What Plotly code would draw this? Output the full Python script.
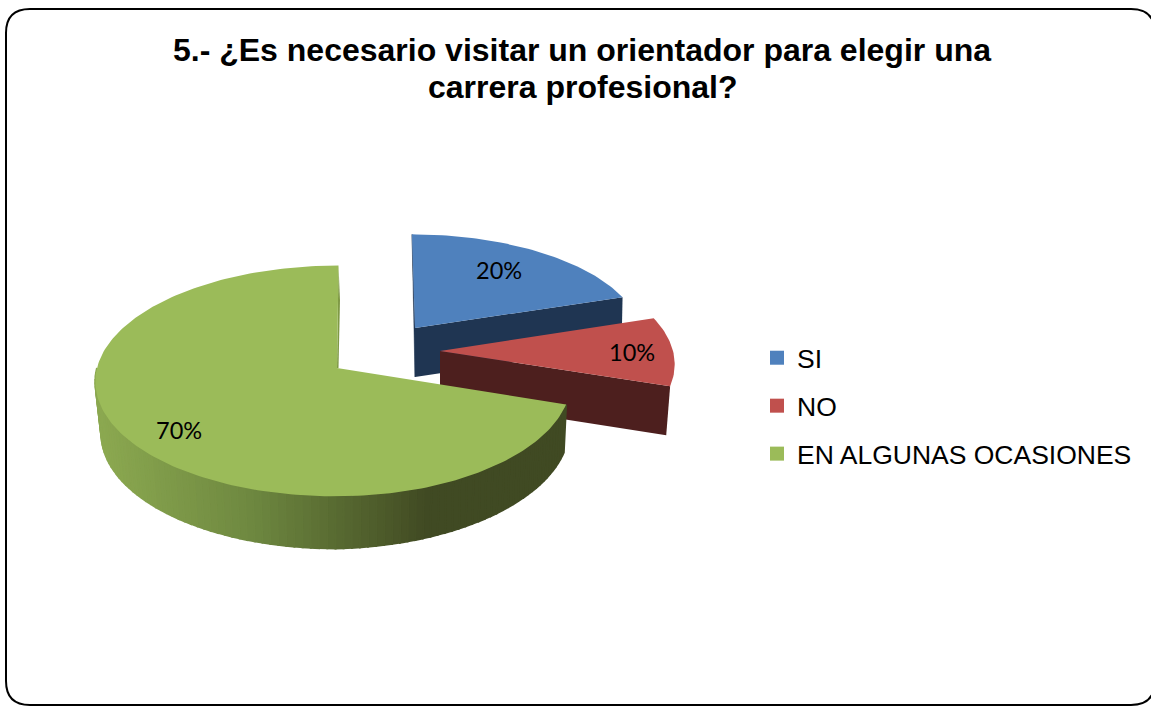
import math
import plotly.graph_objects as go

# ---- data ----
categories = ["SI", "NO", "EN ALGUNAS OCASIONES"]
values = [20, 10, 70]
title_lines = ["5.- ¿Es necesario visitar un orientador para elegir una", "carrera profesional?"]

# ---- style ----
top_colors = ["#4F81BD", "#C0504D", "#9BBB59"]
wall_colors = ["#1F3552", "#4D1F1E", "#404A23"]
# apex x/y, rx (right), rx (left), ry, perspective k, tilt, wall depth, right-side shrink, right-side depth loss
geom = [
    dict(ax=415, ay=328, rx=226, rxl=226, ry=103, k=0.10, tilt=3, d=49, sr=0.995, dr=0),
    dict(ax=440, ay=351, rx=233, rxl=233, ry=110, k=0.12, tilt=0, d=49, sr=0.983, dr=0),
    dict(ax=337, ay=368, rx=233, rxl=240, ry=114, k=0.112, tilt=-1.5, d=52, sr=0.99, dr=0.08),
]
label_pos = [(499, 270), (632, 352), (179, 430)]
SHRINK_LEFT = 0.975


def rim(g, theta):
    u, v = math.sin(theta), math.cos(theta)
    s = 1 / (1 + g["k"] * v)
    r = g["rx"] if u >= 0 else g["rxl"]
    return g["ax"] + r * u * s - g["tilt"] * v, g["ay"] - g["ry"] * v * s


def low(g, p):
    dx = p[0] - g["ax"]
    shrink = g["sr"] if dx >= 0 else SHRINK_LEFT
    u = max(0.0, dx / g["rx"])
    return g["ax"] + dx * shrink, p[1] + g["d"] * (1 - g["dr"] * u)


def poly(pts, color, width=0.0):
    return go.Scatter(
        x=[p[0] for p in pts] + [pts[0][0]],
        y=[p[1] for p in pts] + [pts[0][1]],
        mode="lines", fill="toself", fillcolor=color,
        line=dict(color=color, width=width),
        hoverinfo="skip", showlegend=False,
    )


def green_shade(x):
    stops = [(100, (139, 168, 80)), (250, (110, 136, 64)), (400, (72, 84, 39)), (425, (64, 74, 35)), (700, (64, 74, 35))]
    for (x0, c0), (x1, c1) in zip(stops, stops[1:]):
        if x <= x1:
            t = max(0, (x - x0) / (x1 - x0))
            c = [round(a + (b - a) * t) for a, b in zip(c0, c1)]
            return "rgb({},{},{})".format(*c)
    return "rgb(64,74,35)"


fig = go.Figure()
total = sum(values)
angle = 0.0
for i, val in enumerate(values):
    g = geom[i]
    a0 = angle
    a1 = angle + 2 * math.pi * val / total
    angle = a1
    n = max(12, int(val * 3))
    arc = [rim(g, a0 + (a1 - a0) * j / n) for j in range(n + 1)]
    apex = (g["ax"], g["ay"])
    lapex = (g["ax"], g["ay"] + g["d"])

    if i == 0:
        # sliver of the inner face at the start and the cut face at the end
        fig.add_trace(poly([arc[0], apex, lapex], wall_colors[i], 0.5))
        fig.add_trace(poly([apex, arc[-1], low(g, arc[-1]), lapex], wall_colors[i]))
    elif i == 1:
        fig.add_trace(poly([apex, arc[-1], low(g, arc[-1]), lapex], wall_colors[i]))
    else:
        # cut face at the top of the large slice
        p = arc[-1]
        fig.add_trace(poly([p, (p[0] + 1.5, p[1] + 35), (apex[0] + 1.5, apex[1]), apex], "#7F9A45"))
        # shaded outer wall: front half of the rim only, in overlapping strips
        strips = 140
        front = [a0 + (a1 - a0) * j / strips for j in range(strips + 1)]
        front = [t for t in front if t <= 1.5 * math.pi]
        for t0, t1 in zip(front, front[1:]):
            p0, p1 = rim(g, t0), rim(g, t1)
            fig.add_trace(poly([p0, p1, low(g, p1), low(g, p0)], green_shade((p0[0] + p1[0]) / 2), 2))

    fig.add_trace(poly([apex] + arc, top_colors[i]))

# legend entries
for name, color in zip(categories, top_colors):
    fig.add_trace(go.Scatter(
        x=[None], y=[None], mode="markers", name=name, legendgroup=name,
        marker=dict(symbol="square", size=14, color=color),
    ))

for val, (lx, ly) in zip(values, label_pos):
    fig.add_annotation(x=lx, y=ly, text=f"{val}%", showarrow=False,
                       font=dict(family="Lato, Carlito, sans-serif", size=23.5, color="#000000"))

TITLE_FONT = dict(family="Liberation Sans, Arial, sans-serif", size=32, color="#000000")
# second title line sits closer than Plotly's fixed line height allows
fig.add_annotation(x=582, y=87, text=f"<b>{title_lines[1]}</b>", showarrow=False, font=TITLE_FONT)

fig.update_layout(
    width=1151, height=706, margin=dict(l=0, r=0, t=0, b=0),
    paper_bgcolor="#FFFFFF", plot_bgcolor="#FFFFFF",
    xaxis=dict(range=[0, 1151], visible=False, fixedrange=True),
    yaxis=dict(range=[706, 0], visible=False, fixedrange=True),
    title=dict(
        text=f"<b>{title_lines[0]}</b>",
        x=582 / 1151, xanchor="center", y=1 - 50 / 706, yanchor="middle",
        font=TITLE_FONT,
    ),
    legend=dict(
        x=757 / 1151, xanchor="left", y=1 - 334 / 706, yanchor="top",
        font=dict(family="Liberation Sans, Arial, sans-serif", size=26.5, color="#000000"),
        bgcolor="rgba(0,0,0,0)", tracegroupgap=10.5, itemclick=False, itemdoubleclick=False,
    ),
    shapes=[dict(
        type="path", xref="x", yref="y", layer="below",
        path="M 30,9 L 1131,9 Q 1155,9 1155,33 L 1155,681 Q 1155,705 1131,705 "
             "L 30,705 Q 6,705 6,681 L 6,33 Q 6,9 30,9 Z",
        line=dict(color="#000000", width=2),
    )],
)

fig.write_html("out.html", config={"displayModeBar": False},
               post_script="document.body.style.margin='0';document.body.style.overflow='hidden';")
